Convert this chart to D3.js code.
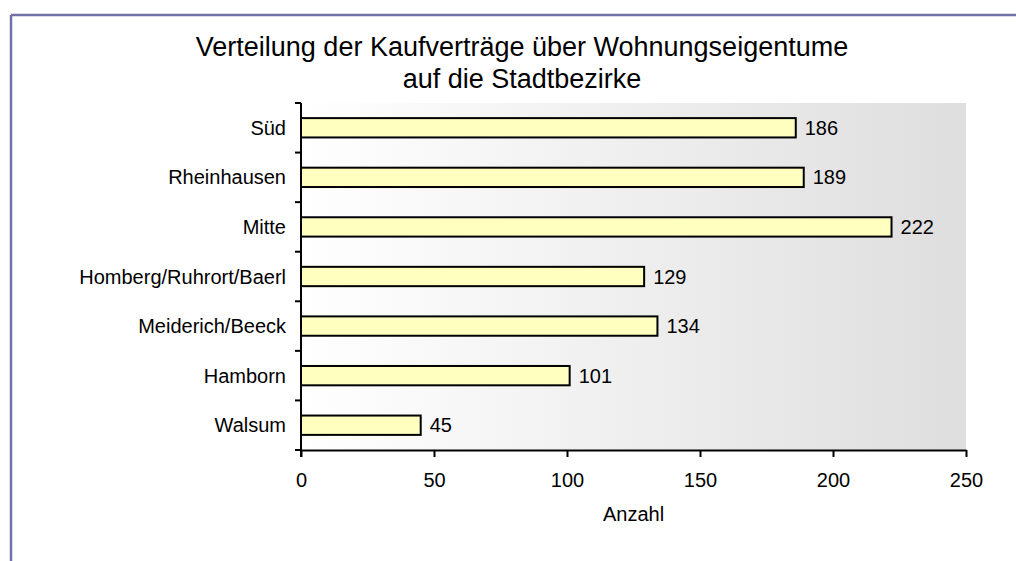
<!DOCTYPE html>
<html>
<head>
<meta charset="utf-8">
<script src="https://cdn.jsdelivr.net/npm/d3@7"></script>
<style>
  body { margin: 0; background: #fff; }
  text { font-family: "Liberation Sans", Arial, sans-serif; fill: #000; }
</style>
</head>
<body>
<svg id="chart" width="1016" height="561"></svg>
<script>
// data (top to bottom)
var districts = ['Süd', 'Rheinhausen', 'Mitte', 'Homberg/Ruhrort/Baerl', 'Meiderich/Beeck', 'Hamborn', 'Walsum']
var contracts = [186, 189, 222, 129, 134, 101, 45]
var xTicks = [0, 50, 100, 150, 200, 250]
var titleLines = ['Verteilung der Kaufverträge über Wohnungseigentume', 'auf die Stadtbezirke']

var margin = { top: 103, right: 50, bottom: 111, left: 301 }
var svg = d3.select('#chart')
var svgWidth = 1016
var svgHeight = 561
var width = svgWidth - margin.left - margin.right
var height = svgHeight - margin.top - margin.bottom

// frame (top + left edge)
svg.append('line').attr('x1', 11).attr('x2', svgWidth).attr('y1', 15).attr('y2', 15)
  .attr('stroke', '#7272a6').attr('stroke-width', 2.5)
svg.append('line').attr('x1', 11).attr('x2', 11).attr('y1', 15).attr('y2', svgHeight)
  .attr('stroke', '#7272a6').attr('stroke-width', 2.5)

// gradient for plot area
var defs = svg.append('defs')
var grad = defs.append('linearGradient').attr('id', 'bg').attr('x1', '0%').attr('x2', '100%')
grad.append('stop').attr('offset', '0%').attr('stop-color', '#ffffff')
grad.append('stop').attr('offset', '100%').attr('stop-color', '#dedede')

var g = svg.append('g').attr('transform', 'translate(' + margin.left + ',' + margin.top + ')')

g.append('rect').attr('width', width).attr('height', height).attr('fill', 'url(#bg)')

var x = d3.scaleLinear().domain([0, 250]).range([0, width])
var y = d3.scaleBand().domain(districts).range([0, height]).paddingInner(0.61).paddingOuter(0.305)

// bars
g.selectAll('rect.bar')
  .data(districts)
  .enter()
  .append('rect')
  .attr('class', 'bar')
  .attr('x', 0)
  .attr('y', function (d) { return y(d) })
  .attr('width', function (d, i) { return x(contracts[i]) })
  .attr('height', y.bandwidth())
  .attr('fill', '#ffffc0')
  .attr('stroke', '#000')
  .attr('stroke-width', 2)

// value labels
g.selectAll('text.val')
  .data(districts)
  .enter()
  .append('text')
  .attr('class', 'val')
  .attr('x', function (d, i) { return x(contracts[i]) + 9 })
  .attr('y', function (d) { return y(d) + y.bandwidth() / 2 })
  .attr('dy', '0.35em')
  .attr('font-size', 20)
  .text(function (d, i) { return contracts[i] })

// X axis
var xAxis = g.append('g')
  .attr('transform', 'translate(0,' + height + ')')
  .call(d3.axisBottom(x).tickValues(xTicks).tickSize(7).tickSizeOuter(0).tickPadding(16))
xAxis.select('.domain').attr('stroke-width', 2)
xAxis.selectAll('.tick line').attr('stroke-width', 2)
xAxis.selectAll('text').attr('font-size', 20).attr('font-family', '"Liberation Sans", Arial, sans-serif')

// Y axis with ticks between categories
var yAxis = g.append('g')
yAxis.append('line').attr('x1', 0).attr('x2', 0).attr('y1', 0).attr('y2', height + 7)
  .attr('stroke', '#000').attr('stroke-width', 2)
var step = y.step()
yAxis.selectAll('line.tk')
  .data(d3.range(districts.length + 1))
  .enter()
  .append('line')
  .attr('class', 'tk')
  .attr('x1', -6).attr('x2', 0)
  .attr('y1', function (i) { return i * step })
  .attr('y2', function (i) { return i * step })
  .attr('stroke', '#000').attr('stroke-width', 2)
yAxis.selectAll('text')
  .data(districts)
  .enter()
  .append('text')
  .attr('x', -15)
  .attr('y', function (d) { return y(d) + y.bandwidth() / 2 })
  .attr('dy', '0.35em')
  .attr('text-anchor', 'end')
  .attr('font-size', 20)
  .text(function (d) { return d })

// axis title
svg.append('text')
  .attr('x', margin.left + width / 2)
  .attr('y', 521)
  .attr('text-anchor', 'middle')
  .attr('font-size', 20)
  .text('Anzahl')

// chart title
svg.selectAll('text.title')
  .data(titleLines)
  .enter()
  .append('text')
  .attr('class', 'title')
  .attr('x', 522)
  .attr('y', function (d, i) { return 56 + i * 32 })
  .attr('text-anchor', 'middle')
  .attr('font-size', 27)
  .text(function (d) { return d })
</script>
</body>
</html>
